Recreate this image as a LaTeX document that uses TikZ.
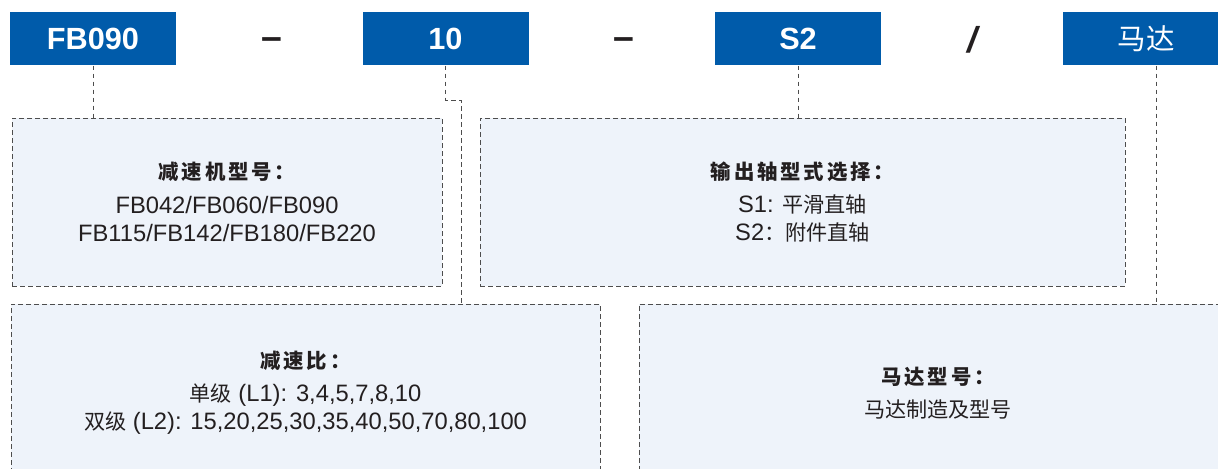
\documentclass[tikz,border=0pt]{standalone}
\usepackage{fontspec}
\setmainfont{Liberation Sans}
\newfontfamily\cjk[Scale=0.89]{Noto Sans CJK SC}
\newfontfamily\cjkhead[Scale=0.86,LetterSpace=14]{Noto Sans CJK SC}
\definecolor{codeblue}{HTML}{005BAA}
\definecolor{infofill}{HTML}{EEF3FA}
\definecolor{dashgray}{HTML}{4D4D4D}
\definecolor{inktext}{HTML}{231F20}

\tikzset{every picture/.style={line width=0.75pt}}
\tikzset{
  code/.style={fill=codeblue, text=white, minimum width=124.5pt, minimum height=39.75pt, inner sep=0pt, font=\fontsize{23}{27}\selectfont\bfseries},
  info/.style={draw=dashgray, fill=infofill, dash pattern=on 3.5pt off 2.5pt, text=inktext, align=center, inner sep=0pt, font=\fontsize{17.8}{21}\selectfont},
  link/.style={draw=dashgray, dash pattern=on 3.5pt off 2.5pt},
  sep/.style={text=inktext, inner sep=0pt, anchor=base, font=\fontsize{28}{30}\selectfont\bfseries}
}
\newcommand\boxhead[1]{{\cjkhead\bfseries #1}\\[4pt]}

\begin{document}
\begin{tikzpicture}[x=0.75pt,y=0.75pt,yscale=-1,xscale=1]
\useasboundingbox (0,0) rectangle (1218,468);
\clip (0,0) rectangle (1218,468);

%Shape: Code boxes
\node[code] (fb) at (93,38.5) {FB090};
\node[code] (ratio) at (445.5,38.5) {10};
\node[code] (shaft) at (798,38.5) {S2};
\node[code, font=\fontsize{24}{27}\selectfont\cjk] (motor) at (1146,38.5) {马达};

% Text Node
\node[sep] (dash1) at (272,49) {–};
% Text Node
\node[sep] (dash2) at (624,49) {–};
% Text Node
\node[sep, font=\fontsize{27}{30}\selectfont\bfseries\itshape] (slash) at (972,52) {/};

%Shape: Info boxes
\node[info, minimum width=322.5pt, minimum height=126pt] (gbox) at (227,202) {\boxhead{减速机型号：}FB042/FB060/FB090\\FB115/FB142/FB180/FB220};
\node[info, minimum width=483.75pt, minimum height=126pt] (sbox) at (802.5,202) {\boxhead{输出轴型式选择：}S1: {\cjk 平滑直轴}\\S2{\cjk ：附件直轴}};
\node[info, minimum width=441.75pt, minimum height=133.5pt] (rbox) at (305.5,393) {\boxhead{减速比：}{\cjk 单级} (L1): 3,4,5,7,8,10\\{\cjk 双级} (L2): 15,20,25,30,35,40,50,70,80,100};
\node[info, minimum width=448.5pt, minimum height=133.5pt] (mbox) at (938,393) {\boxhead{马达型号：}{\cjk 马达制造及型号}};

%Straight Lines: connectors
\coordinate (rtap) at (461,100);
\coordinate (mtap) at ([xshift=7.5pt]motor.south);
\draw[link] (fb.south) -- (fb.south |- gbox.north);
\draw[link] (ratio.south) |- (rtap) -- (rtap |- rbox.north);
\draw[link] (shaft.south) -- (shaft.south |- sbox.north);
\draw[link] (mtap) -- (mtap |- mbox.north);

\end{tikzpicture}
\end{document}
